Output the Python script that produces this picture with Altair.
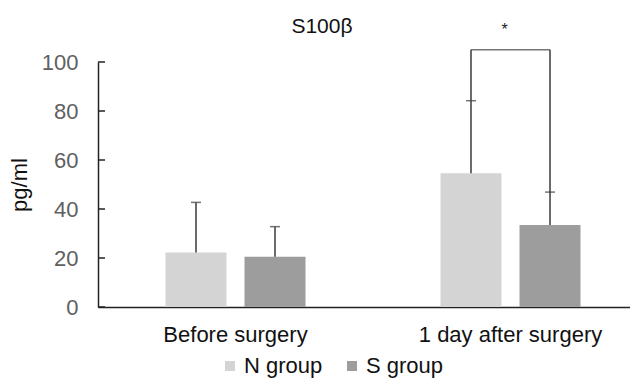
import altair as alt
import pandas as pd

categories = ["Before surgery", "1 day after surgery"]
groups = ["N group", "S group"]
n_mean = [22.2, 54.6]
n_sd = [20.5, 29.6]
s_mean = [20.5, 33.5]
s_sd = [12.3, 13.4]
colors = ["#d4d4d4", "#9d9d9d"]
y_ticks = [0, 20, 40, 60, 80, 100]
sig_category = "1 day after surgery"
bracket_level = 105
star_level = 113
star_text = "*"

rows = []
for i, c in enumerate(categories):
    rows.append({"time": c, "group": groups[0], "mean": n_mean[i], "top": n_mean[i] + n_sd[i]})
    rows.append({"time": c, "group": groups[1], "mean": s_mean[i], "top": s_mean[i] + s_sd[i]})
df = pd.DataFrame(rows)

sig_df = df[df["time"] == sig_category].copy()
sig_df["level"] = bracket_level

FONT = "Liberation Sans"

x_enc = alt.X("time:N", sort=categories,
              scale=alt.Scale(range=[0, 550], paddingInner=0, paddingOuter=0),
              axis=alt.Axis(title=None, labelAngle=0, labelFontSize=22, labelColor="#111111",
                            labelFont=FONT, ticks=False, labelPadding=17, labelLimit=400,
                            domainColor="#222222", domainWidth=1.5))
xo = alt.XOffset("group:N", sort=groups,
                 scale=alt.Scale(paddingInner=0.228, paddingOuter=0.854))
y_scale = alt.Scale(domain=[0, 100], nice=False)

bars = alt.Chart(df).mark_bar(size=61).encode(
    x=x_enc,
    xOffset=xo,
    y=alt.Y("mean:Q", scale=y_scale,
            axis=alt.Axis(title="pg/ml", values=y_ticks, ticks=False, grid=False,
                          labelFontSize=22, labelColor="#606060", labelFont=FONT,
                          labelPadding=20, titleFontSize=22, titleFont=FONT,
                          titleFontWeight="normal", titleColor="#111111", titlePadding=10,
                          domainColor="#222222", domainWidth=1.5)),
    color=alt.Color("group:N", sort=groups, scale=alt.Scale(domain=groups, range=colors),
                    legend=alt.Legend(title=None, orient="none", direction="horizontal",
                                      legendX=121, legendY=293, symbolType="square",
                                      symbolSize=100, symbolStrokeWidth=0, symbolOpacity=1,
                                      labelFontSize=22, labelFont=FONT, labelColor="#111111",
                                      columnPadding=18, labelOffset=3, padding=0)),
)

err = alt.Chart(df).mark_rule(color="#3a3a3a", strokeWidth=1.5).encode(
    x=alt.X("time:N", sort=categories),
    xOffset=alt.XOffset("group:N", sort=groups),
    y="mean:Q", y2="top:Q",
)
caps = alt.Chart(df).mark_tick(color="#3a3a3a", size=10, thickness=1.5).encode(
    x=alt.X("time:N", sort=categories),
    xOffset=alt.XOffset("group:N", sort=groups),
    y="top:Q",
)

bracket_v = alt.Chart(sig_df).mark_rule(color="#3a3a3a", strokeWidth=1.5).encode(
    x=alt.X("time:N", sort=categories),
    xOffset=alt.XOffset("group:N", sort=groups),
    y="top:Q", y2="level:Q",
)
bracket_h = alt.Chart(pd.DataFrame({"time": [sig_category], "level": [bracket_level]})).mark_tick(
    color="#3a3a3a", size=79, thickness=1.5).encode(
    x=alt.X("time:N", sort=categories),
    y="level:Q",
)
star = alt.Chart(pd.DataFrame({"time": [sig_category], "level": [star_level], "t": [star_text]})).mark_text(
    fontSize=16, font=FONT, color="#222222", baseline="middle", dx=-6).encode(
    x=alt.X("time:N", sort=categories),
    y="level:Q",
    text="t:N",
)

ytick_df = pd.DataFrame({"v": y_ticks})
inner_ticks = alt.Chart(ytick_df).mark_rule(color="#222222", strokeWidth=1.5).encode(
    y="v:Q", x=alt.value(0), x2=alt.value(7),
)

chart = alt.layer(bars, err, caps, bracket_v, bracket_h, star, inner_ticks).properties(
    width=532, height=245,
    title=alt.TitleParams("S100β", fontSize=21, font=FONT, fontWeight="normal",
                          color="#111111", anchor="middle", dx=-42, offset=-15),
    autosize=alt.AutoSizeParams(type="none"),
    padding={"left": 90, "top": 54, "right": 0, "bottom": 72},
).configure_view(stroke=None)

chart.save("out.html", embed_options={"renderer": "svg", "actions": False})
